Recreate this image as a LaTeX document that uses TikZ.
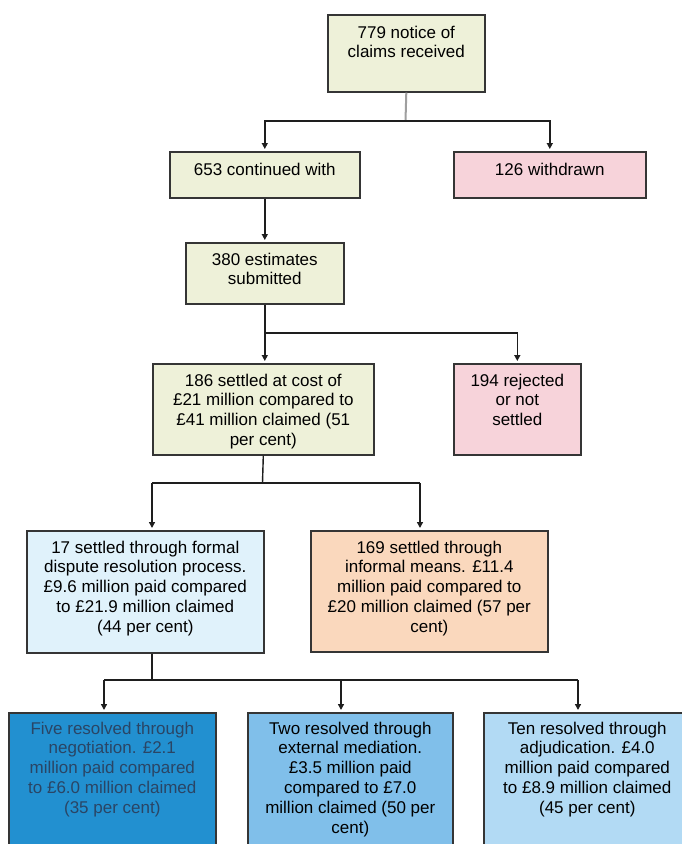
\documentclass[tikz,border=0pt]{standalone}
\usepackage{fontspec}
\setmainfont{Liberation Sans}
\usetikzlibrary{arrows.meta}
\definecolor{ygreen}{HTML}{EEF1D9}
\definecolor{pinkc}{HTML}{F7D3DA}
\definecolor{paleblue}{HTML}{E0F2FB}
\definecolor{peach}{HTML}{FAD8BD}
\definecolor{blueA}{HTML}{2290D0}
\definecolor{blueB}{HTML}{80BFEA}
\definecolor{blueC}{HTML}{B2DAF4}
\definecolor{textA}{HTML}{2A4565}
\definecolor{bordc}{HTML}{353535}
\definecolor{linec}{HTML}{1E1E1E}
\newcommand{\bxt}[4]{\parbox[c][#2][t]{#1}{\centering\vspace*{#3}\strut #4\par}}
\tikzset{
  flowbox/.style={draw=bordc, line width=1.6pt, inner sep=0pt, anchor=north west,
    font=\fontsize{17}{19.8}\selectfont},
  conn/.style={draw=linec, line width=1.4pt},
  arr/.style={conn, -{Triangle[length=6pt,width=6pt]}, shorten >=2pt},
}
\begin{document}
\begin{tikzpicture}[x=1pt,y=-1pt]
\useasboundingbox (0,0) rectangle (682,844);
\clip (0,0) rectangle (682,844);
\fill[white] (0,0) rectangle (682,844);

\node[flowbox, fill=ygreen] (n779) at (327,14) {\bxt{157pt}{77pt}{9.5pt}{779 notice of\\claims received}};
\node[flowbox, fill=ygreen] (n653) at (169,151) {\bxt{190pt}{46pt}{10pt}{653 continued with}};
\node[flowbox, fill=pinkc] (n126) at (453,151) {\bxt{192pt}{46pt}{10pt}{126 withdrawn}};
\node[flowbox, fill=ygreen] (n380) at (185,242) {\bxt{158pt}{61pt}{8.5pt}{380 estimates\\submitted}};
\node[flowbox, fill=ygreen] (n186) at (152,363) {\bxt{221pt}{91pt}{8.5pt}{186 settled at cost of\\£21 million compared to\\£41 million claimed (51\\per cent)}};
\node[flowbox, fill=pinkc] (n194) at (453,363) {\bxt{127pt}{91pt}{8.5pt}{194 rejected\\or not\\settled}};
\node[flowbox, fill=paleblue] (n17) at (26,530) {\bxt{237pt}{122pt}{8.5pt}{17 settled through formal\\dispute resolution process.\\£9.6 million paid compared\\to £21.9 million claimed\\(44 per cent)}};
\node[flowbox, fill=peach] (n169) at (310,530) {\bxt{237pt}{121pt}{8.5pt}{169 settled through\\informal means. £11.4\\million paid compared to\\£20 million claimed (57 per\\cent)}};
\node[flowbox, fill=blueA, text=textA] (nA) at (8,712) {\bxt{207pt}{140pt}{7.5pt}{Five resolved through\\negotiation. £2.1\\million paid compared\\to £6.0 million claimed\\(35 per cent)}};
\node[flowbox, fill=blueB] (nB) at (247,712) {\bxt{205pt}{140pt}{7.5pt}{Two resolved through\\external mediation.\\£3.5 million paid\\compared to £7.0\\million claimed (50 per\\cent)}};
\node[flowbox, fill=blueC] (nC) at (483,712) {\bxt{207pt}{140pt}{7.5pt}{Ten resolved through\\adjudication. £4.0\\million paid compared\\to £8.9 million claimed\\(45 per cent)}};

% level 1
\coordinate (j1) at (405.5,121);
\draw[conn, draw=gray!75, line width=2pt] (n779.south) -- (j1);
\draw[arr] (j1) -| (n653.north);
\draw[arr] (j1) -| (n126.north);
% level 2
\draw[arr] (n653.south) -- (n380.north);
% level 3
\coordinate (j2) at (264,333);
\draw[arr] (n380.south) -- (n380.south |- n186.north);
\draw[arr] (j2) -| (n194.north);
% level 4
\coordinate (j3) at (262.5,483);
\coordinate (a17) at (152,483);
\coordinate (a169) at (420,483);
\draw[conn] (n186.south) -- (j3);
\draw[conn] (a17) -- (a169);
\draw[arr] (a17) -- (a17 |- n17.north);
\draw[arr] (a169) -- (a169 |- n169.north);
% level 5
\coordinate (j4) at (152,680);
\coordinate (aA) at (104,680);
\coordinate (aB) at (341,680);
\coordinate (aC) at (578,680);
\draw[conn] (j4 |- n17.south) -- (j4);
\draw[conn] (aA) -- (aC);
\draw[arr] (aA) -- (aA |- nA.north);
\draw[arr] (aB) -- (aB |- nB.north);
\draw[arr] (aC) -- (aC |- nC.north);
\end{tikzpicture}
\end{document}
